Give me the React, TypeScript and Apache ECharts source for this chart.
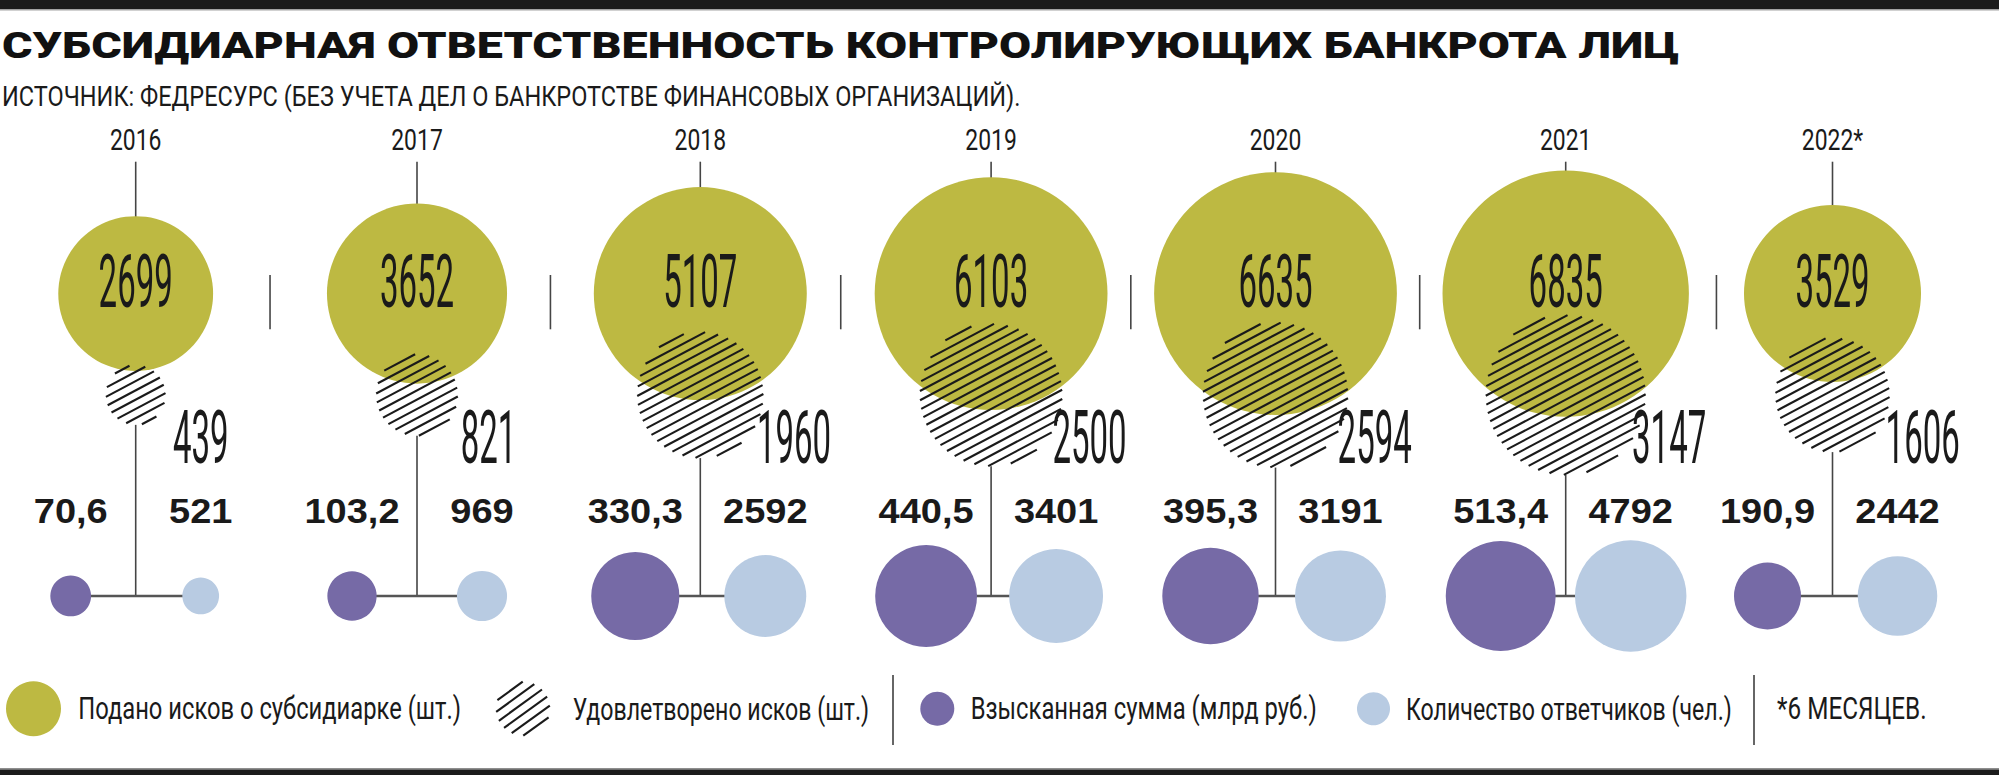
import React, { useEffect, useRef } from 'react';
import * as echarts from 'echarts';

// ---------- data ----------
const YEARS = ['2016', '2017', '2018', '2019', '2020', '2021', '2022*'];
const CLAIMS_FILED = [2699, 3652, 5107, 6103, 6635, 6835, 3529];
const CLAIMS_SATISFIED = [439, 821, 1960, 2500, 2594, 3147, 1606];
const AMOUNT_RECOVERED = [70.6, 103.2, 330.3, 440.5, 395.3, 513.4, 190.9];
const DEFENDANTS = [521, 969, 2592, 3401, 3191, 4792, 2442];

const TITLE = 'СУБСИДИАРНАЯ ОТВЕТСТВЕННОСТЬ КОНТРОЛИРУЮЩИХ БАНКРОТА ЛИЦ';
const SUBTITLE = 'ИСТОЧНИК: ФЕДРЕСУРС (БЕЗ УЧЕТА ДЕЛ О БАНКРОТСТВЕ ФИНАНСОВЫХ ОРГАНИЗАЦИЙ).';
const LEGEND_LABELS = [
  'Подано исков о субсидиарке (шт.)',
  'Удовлетворено исков (шт.)',
  'Взысканная сумма (млрд руб.)',
  'Количество ответчиков (чел.)',
];
const FOOTNOTE = '*6 МЕСЯЦЕВ.';

// ---------- layout / style ----------
const W = 1999;
const H = 775;
const COLUMN_NUDGE = [0, -1.5, -1, 7, 8.6, 16, 0];
const GREEN = '#bdb942';
const PURPLE = '#766aa6';
const LIGHT_BLUE = '#b8cbe2';
const INK = '#1a1a1a';
const LINE = '#454545';

// radius per sqrt(value)
const GREEN_K = 2.98 / 2;
const HATCH_K = 2.85 / 2;
const PURPLE_K = 4.85 / 2;
const BLUE_K = 1.61 / 2;

const ROW = {
  yearCap: 139.7,
  tickTop: 161.7,
  green: 293.6,
  greenLabel: 280.7,
  hatch: 395,
  hatchLabel: 436.7,
  numLabel: 510.8,
  bottom: 596,
  sepTop: 275,
  sepBottom: 329.3,
};
const SIDE_OFFSET = 65;
const HATCH_ANGLE = 28;
const LEGEND_HATCH_ANGLE = 36;
const HATCH_SPACING = 8.2;

const COND = 'Roboto';
const BOLD = "'Liberation Sans'";

let ctx: CanvasRenderingContext2D | null = null;
function inkWidth(text: string, size: number, family: string, weight: number | string) {
  if (!ctx) ctx = document.createElement('canvas').getContext('2d');
  ctx!.font = `${weight} ${size}px ${family}`;
  const m = ctx!.measureText(text);
  const w = (m.actualBoundingBoxLeft || 0) + (m.actualBoundingBoxRight || 0);
  return w > 0 ? w : m.width;
}
function fit(text: string, size: number, family: string, weight: number | string, target: number) {
  return target / inkWidth(text, size, family, weight);
}

function hatchLines(cx: number, cy: number, r: number, spacing: number, angleDeg: number, lw: number) {
  const a = (angleDeg * Math.PI) / 180;
  const dx = Math.cos(a);
  const dy = -Math.sin(a);
  const nx = Math.sin(a);
  const ny = Math.cos(a);
  const out: any[] = [];
  const n = Math.floor(r / spacing) + 1;
  for (let k = -n; k <= n; k++) {
    const t = k * spacing + spacing / 2;
    if (Math.abs(t) >= r) continue;
    const h = Math.sqrt(r * r - t * t);
    if (h < 1.5) continue;
    const px = cx + nx * t;
    const py = cy + ny * t;
    out.push({
      type: 'line',
      shape: { x1: px - dx * h, y1: py - dy * h, x2: px + dx * h, y2: py + dy * h },
      style: { stroke: INK, lineWidth: lw, lineCap: 'butt' },
      silent: true,
    });
  }
  return out;
}

function txt(
  text: string,
  x: number,
  y: number,
  size: number,
  family: string,
  weight: number | string,
  align: string,
  scaleX: number,
  fill = INK
) {
  return {
    type: 'text',
    x,
    y,
    scaleX,
    silent: true,
    style: {
      text,
      fontSize: size,
      fontFamily: family,
      fontWeight: weight,
      fill,
      align,
      verticalAlign: 'middle',
      textAlign: align,
      textVerticalAlign: 'middle',
    },
  };
}

function buildOption() {
  const yearSize = 29.1;
  const yearScale = fit('2018', yearSize, COND, 400, 49.7);
  const bigSize = 75;
  const bigScale = fit('6635', bigSize, COND, 400, 71.5);
  const numSize = 35;
  const numScale = fit('330,3', numSize, BOLD, 'bold', 94.5);

  const renderItem = (params: any, api: any) => {
    const i = params.dataIndex;
    const cx = api.coord([i, 0])[0] + COLUMN_NUDGE[i];
    const Y = (v: number) => api.coord([i, v])[1];
    const filed = api.value(1);
    const satisfied = api.value(2);
    const amount = api.value(3);
    const defendants = api.value(4);

    const rg = GREEN_K * Math.sqrt(filed);
    const rh = HATCH_K * Math.sqrt(satisfied);
    const rp = PURPLE_K * Math.sqrt(amount);
    const rb = BLUE_K * Math.sqrt(defendants);
    const gy = Y(ROW.green);
    const hy = Y(ROW.hatch);
    const by = Y(ROW.bottom);
    const px = cx - SIDE_OFFSET;
    const bx = cx + SIDE_OFFSET;

    const children: any[] = [];
    children.push(txt(YEARS[i], cx, Y(ROW.yearCap), yearSize, COND, 400, 'center', yearScale));
    children.push({
      type: 'line',
      shape: { x1: cx, y1: Y(ROW.tickTop), x2: cx, y2: gy - rg + 1 },
      style: { stroke: LINE, lineWidth: 1.6 },
      silent: true,
    });
    children.push({
      type: 'line',
      shape: { x1: cx, y1: hy + rh, x2: cx, y2: by },
      style: { stroke: LINE, lineWidth: 1.6 },
      silent: true,
    });
    children.push({
      type: 'line',
      shape: { x1: px, y1: by, x2: bx, y2: by },
      style: { stroke: '#555555', lineWidth: 2.6 },
      silent: true,
    });
    children.push({ type: 'circle', shape: { cx, cy: gy, r: rg }, style: { fill: GREEN }, silent: true });
    children.push(...hatchLines(cx, hy, rh, HATCH_SPACING, HATCH_ANGLE, 2.1));
    children.push(txt(String(filed), cx, Y(ROW.greenLabel), bigSize, COND, 400, 'center', bigScale));
    children.push(
      txt(String(satisfied), cx + 20 + 0.58 * rh, Y(ROW.hatchLabel), bigSize, COND, 400, 'left', bigScale)
    );
    children.push({ type: 'circle', shape: { cx: px, cy: by, r: rp }, style: { fill: PURPLE }, silent: true });
    children.push({ type: 'circle', shape: { cx: bx, cy: by, r: rb }, style: { fill: LIGHT_BLUE }, silent: true });
    children.push(
      txt(amount.toFixed(1).replace('.', ','), px, Y(ROW.numLabel), numSize, BOLD, 'bold', 'center', numScale)
    );
    children.push(txt(String(defendants), bx, Y(ROW.numLabel), numSize, BOLD, 'bold', 'center', numScale));

    if (i < YEARS.length - 1) {
      const nx = api.coord([i + 1, 0])[0] + COLUMN_NUDGE[i + 1];
      const nr = GREEN_K * Math.sqrt(CLAIMS_FILED[i + 1]);
      const sx = (cx + rg + (nx - nr)) / 2;
      children.push({
        type: 'line',
        shape: { x1: sx, y1: Y(ROW.sepTop), x2: sx, y2: Y(ROW.sepBottom) },
        style: { stroke: LINE, lineWidth: 1.6 },
        silent: true,
      });
    }
    return { type: 'group', children };
  };

  const titleSize = 37.5;
  const titleScale = fit(TITLE, titleSize, COND, 900, 1676);
  const subSize = 28;
  const subScale = fit(SUBTITLE, subSize, COND, 400, 1016);
  const legSize = 31.5;
  const legendTargets = [
    { x: 78.3, w: 380 },
    { x: 572.7, w: 294.3 },
    { x: 970.7, w: 343.1 },
    { x: 1406, w: 323 },
  ];
  const legY = 708.7;

  const graphic: any[] = [
    { type: 'rect', shape: { x: 0, y: 0, width: W, height: 9 }, style: { fill: '#1b1b1b' }, silent: true },
    { type: 'rect', shape: { x: 0, y: 9, width: W, height: 1.4 }, style: { fill: '#a3a3a3' }, silent: true },
    { type: 'rect', shape: { x: 0, y: 768, width: W, height: 1.5 }, style: { fill: '#8e8e8e' }, silent: true },
    { type: 'rect', shape: { x: 0, y: 769.5, width: W, height: 6 }, style: { fill: '#1b1b1b' }, silent: true },
    txt(TITLE, 2, 45, titleSize, COND, 900, 'left', titleScale, '#111111'),
    txt(SUBTITLE, 2, 96, subSize, COND, 400, 'left', subScale),
    { type: 'circle', shape: { cx: 33.5, cy: legY, r: 27.5 }, style: { fill: GREEN }, silent: true },
    ...hatchLines(523, legY, 27, 8.8, LEGEND_HATCH_ANGLE, 2.1),
    { type: 'line', shape: { x1: 893, y1: 675, x2: 893, y2: 745 }, style: { stroke: '#333', lineWidth: 1.5 }, silent: true },
    { type: 'circle', shape: { cx: 937.3, cy: legY, r: 17 }, style: { fill: PURPLE }, silent: true },
    { type: 'circle', shape: { cx: 1373.5, cy: legY, r: 16.5 }, style: { fill: LIGHT_BLUE }, silent: true },
    { type: 'line', shape: { x1: 1754, y1: 675, x2: 1754, y2: 745 }, style: { stroke: '#333', lineWidth: 1.5 }, silent: true },
    txt(FOOTNOTE, 1777, legY, legSize, COND, 400, 'left', fit(FOOTNOTE, legSize, COND, 400, 148)),
  ];
  LEGEND_LABELS.forEach((label, k) => {
    const t = legendTargets[k];
    graphic.push(txt(label, t.x, legY, legSize, COND, 400, 'left', fit(label, legSize, COND, 400, t.w)));
  });

  return {
    animation: false,
    backgroundColor: '#ffffff',
    grid: { left: 135.7, right: W - 1832.5, top: 0, bottom: 0 },
    xAxis: { type: 'category', data: YEARS, boundaryGap: false, show: false },
    yAxis: { type: 'value', min: 0, max: H, inverse: true, show: false },
    series: [
      {
        type: 'custom',
        coordinateSystem: 'cartesian2d',
        clip: false,
        silent: true,
        data: YEARS.map((_, i) => [i, CLAIMS_FILED[i], CLAIMS_SATISFIED[i], AMOUNT_RECOVERED[i], DEFENDANTS[i]]),
        renderItem,
      },
    ],
    graphic,
  };
}

export default function App() {
  const ref = useRef<HTMLDivElement>(null);
  useEffect(() => {
    const chart = echarts.init(ref.current!, null, { renderer: 'svg' });
    chart.setOption(buildOption() as any);
    return () => chart.dispose();
  }, []);
  return (
    <div
      ref={ref}
      style={{ position: 'fixed', left: 0, top: 0, width: W, height: H, background: '#ffffff' }}
    />
  );
}
